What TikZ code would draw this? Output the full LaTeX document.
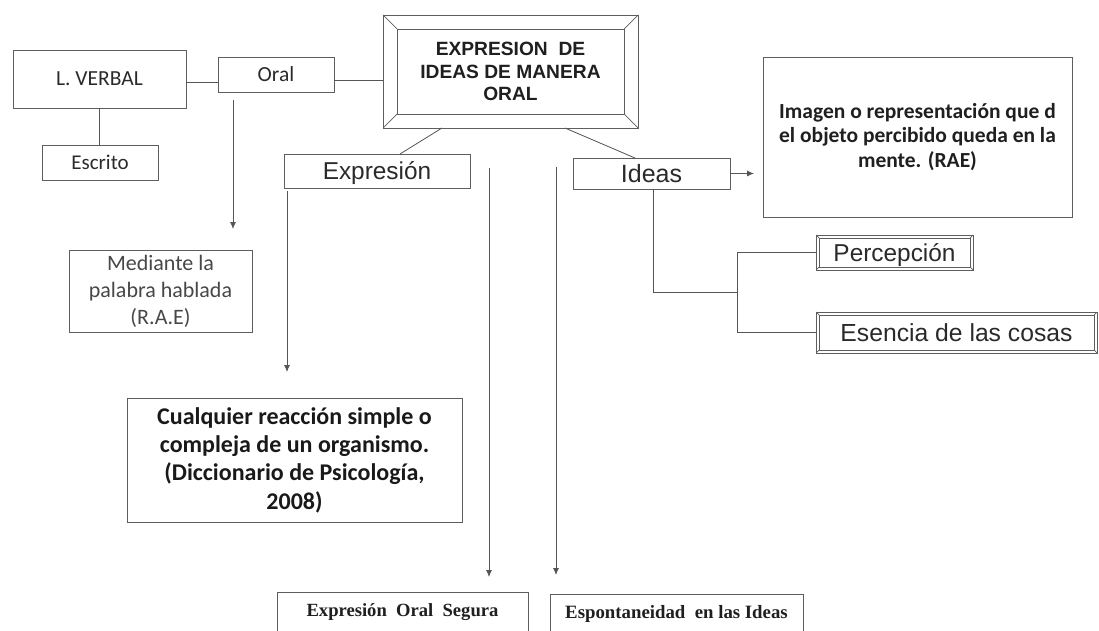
\documentclass[tikz,border=0pt]{standalone}
\usepackage{fontspec}
\setmainfont{Liberation Sans}
\newfontfamily\carlito{Carlito}
\newfontfamily\timesfont{Liberation Serif}
\usetikzlibrary{arrows.meta,calc}
\definecolor{bordc}{HTML}{5E5E5E}
\definecolor{linec}{HTML}{555555}
\definecolor{txtc}{HTML}{2A2A2A}
\newcommand\bevelbox[2]{%
  \draw[frame] ([shift={(#2pt,-#2pt)}]#1.north west) rectangle ([shift={(-#2pt,#2pt)}]#1.south east);
  \draw[frame] (#1.north west) -- ([shift={(#2pt,-#2pt)}]#1.north west);
  \draw[frame] (#1.north east) -- ([shift={(-#2pt,-#2pt)}]#1.north east);
  \draw[frame] (#1.south west) -- ([shift={(#2pt,#2pt)}]#1.south west);
  \draw[frame] (#1.south east) -- ([shift={(-#2pt,#2pt)}]#1.south east);
}
\begin{document}
\begin{tikzpicture}[x=1pt,y=-1pt,
  box/.style={draw=bordc, line width=0.8pt, inner sep=0pt, outer sep=0pt, align=center, text=txtc},
  sbox/.style={draw=bordc, line width=0.8pt, inner sep=0pt, outer sep=0pt, text=txtc, text depth=0pt, text height=#1},
  frame/.style={draw=bordc, line width=0.7pt},
  ln/.style={draw=linec, line width=0.8pt},
  arr/.style={ln, -{Latex[length=7pt,width=6pt]}}]
\useasboundingbox (0,0) rectangle (1099,631);
\clip (0,0) rectangle (1099,631);

% main title
\node[box, minimum width=255pt, minimum height=113pt, font=\bfseries\fontsize{19.2}{22.5}\selectfont, text=black!88] (main) at (510.5,71.5) {EXPRESION\ \ DE\\IDEAS DE MANERA\\ORAL};
\bevelbox{main}{14}

% left branch
\node[sbox=13.8pt, minimum width=173pt, minimum height=58pt, font=\carlito\fontsize{21.5}{24}\selectfont] (lv) at (99.5,79) {L. VERBAL};
\node[sbox=13.8pt, minimum width=116pt, minimum height=35pt, font=\carlito\fontsize{21.5}{24}\selectfont] (oral) at (276,74.5) {Oral};
\node[sbox=13.5pt, minimum width=116pt, minimum height=35pt, font=\carlito\fontsize{21}{24}\selectfont] (escrito) at (100,162.5) {Escrito};
\node[box, minimum width=183pt, minimum height=82pt, font=\carlito\fontsize{22}{27}\selectfont, text=black!72] (mediante) at (160.5,291) {Mediante la\\palabra hablada\\(R.A.E)};

% Expresion
\node[sbox=17.5pt, minimum width=186pt, minimum height=34pt, font=\fontsize{24.4}{28}\selectfont] (expr) at (377,171) {Expresión};
\node[box, minimum width=335pt, minimum height=124pt, font=\carlito\bfseries\fontsize{24}{28.3}\selectfont, text=black!90] (cual) at (294.5,460) {Cualquier reacción simple o\\compleja de un organismo.\\(Diccionario de Psicología,\\2008)};

% Ideas
\node[sbox=17.9pt, minimum width=157pt, minimum height=31pt, font=\fontsize{25}{28}\selectfont] (ideas) at (651.5,173.5) {Ideas};
\node[box, minimum width=309pt, minimum height=160pt, font=\carlito\bfseries\fontsize{21.5}{24.5}\selectfont, text=black!88] (imagen) at (917.5,137) {Imagen o representación que d\\el objeto percibido queda en la\\mente. (RAE)};
\node[sbox=17.5pt, minimum width=157pt, minimum height=35pt, font=\fontsize{24.4}{28}\selectfont] (perc) at (894.5,252.5) {Percepción};
\bevelbox{perc}{3}
\node[sbox=17.7pt, minimum width=281pt, minimum height=41pt, font=\fontsize{24.7}{28}\selectfont] (esen) at (956.5,332.5) {Esencia de las cosas};
\bevelbox{esen}{3}

% bottom boxes
\node[box, minimum width=251pt, minimum height=40pt, font=\timesfont\bfseries\fontsize{18.6}{22}\selectfont, text=black!88] (segura) at (402.5,612) {Expresión\ \ Oral\ \ Segura};
\node[box, minimum width=253pt, minimum height=40pt, font=\timesfont\bfseries\fontsize{18.8}{22}\selectfont, text=black!88] (espont) at (676.5,614) {Espontaneidad\ \ en las Ideas};

% connectors
\draw[ln] ([yshift=-3pt]lv.east) -- ([yshift=-3pt]lv.east -| oral.west);
\draw[ln] ([yshift=-5.5pt]oral.east) -- ([yshift=-5.5pt]oral.east -| main.west);
\draw[ln] (lv.south) -- (lv.south |- escrito.north);
\draw[ln] ([xshift=-68.5pt]main.south) -- ([xshift=23pt]expr.north);
\draw[ln] ([xshift=54.5pt]main.south) -- ([xshift=-16.5pt]ideas.north);

\coordinate (o1) at (233,100);
\coordinate (o2) at (233,229);
\draw[arr] (o1) -- (o2);

\coordinate (e1) at (287,191);
\coordinate (e2) at (287,372);
\draw[arr] (e1) -- (e2);

\coordinate (v1a) at (489,168);
\coordinate (v1b) at (489,577);
\draw[arr] (v1a) -- (v1b);
\coordinate (v2a) at (556,167);
\coordinate (v2b) at (556,575);
\draw[arr] (v2a) -- (v2b);

\coordinate (ia) at (754,173.5);
\draw[arr] (ideas.east) -- (ia);

\coordinate (br) at (737,292);
\draw[ln] ([xshift=1.5pt]ideas.south) |- (br);
\draw[ln] (perc.west) -| (br) |- (esen.west);
\end{tikzpicture}
\end{document}
